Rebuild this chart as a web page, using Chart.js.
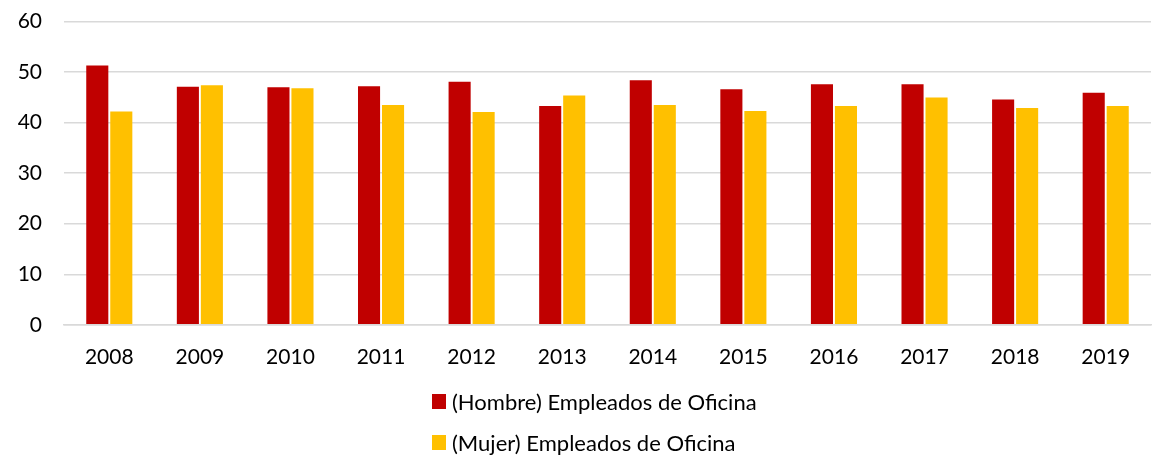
<!DOCTYPE html>
<html>
<head>
<meta charset="utf-8">
<script src="https://cdn.jsdelivr.net/npm/chart.js@4/dist/chart.umd.min.js"></script>
<style>
    body { margin: 0; background: #fff; font-family: Lato, "Noto Sans", sans-serif; overflow: hidden; }
    #wrap { position: relative; width: 1160px; height: 456px; overflow: hidden; }
    #chartBox { position: absolute; left: 0; top: -13px; width: 1160px; height: 403px; }
    #legend { position: absolute; left: 432px; top: 387px; color: #000; font-size: 22px; }
    .item { display: flex; align-items: center; height: 28px; margin-bottom: 13px; }
    .box { width: 14px; height: 15px; margin-right: 6px; }
</style>
</head>
<body>
<div id="wrap">
    <div id="chartBox"><canvas id="chart"></canvas></div>
    <div id="legend"></div>
</div>
<script>
const years = ['2008', '2009', '2010', '2011', '2012', '2013', '2014', '2015', '2016', '2017', '2018', '2019'];
const hombre = [51.3, 47.1, 47.0, 47.2, 48.1, 43.3, 48.4, 46.6, 47.6, 47.6, 44.6, 45.9];
const mujer = [42.2, 47.4, 46.8, 43.5, 42.1, 45.4, 43.5, 42.3, 43.3, 45.0, 42.9, 43.3];
const yTicks = [0, 10, 20, 30, 40, 50, 60];

const seriesNames = ['(Hombre) Empleados de Oficina', '(Mujer) Empleados de Oficina'];
const seriesColors = ['#c00000', '#ffc000'];

const ctx = document.getElementById('chart').getContext('2d');

const chart = new Chart(ctx, {
    type: 'bar',
    data: {
        labels: years,
        datasets: [
            {
                label: seriesNames[0],
                data: hombre,
                backgroundColor: seriesColors[0],
                categoryPercentage: 0.53,
                barPercentage: 0.92
            },
            {
                label: seriesNames[1],
                data: mujer,
                backgroundColor: seriesColors[1],
                categoryPercentage: 0.53,
                barPercentage: 0.92
            }
        ]
    },
    options: {
        responsive: true,
        maintainAspectRatio: false,
        animation: false,
        layout: {
            padding: { top: 0, right: 9, left: 0, bottom: 0 }
        },
        plugins: {
            legend: { display: false },
            tooltip: { enabled: false }
        },
        scales: {
            x: {
                grid: { display: false, drawTicks: false },
                border: { display: true, color: '#d9d9d9', width: 1.5 },
                ticks: {
                    color: '#000',
                    padding: 20,
                    font: { family: 'Lato', size: 21 }
                }
            },
            y: {
                min: 0,
                max: 60,
                afterBuildTicks: axis => {
                    axis.ticks = yTicks.map(v => ({ value: v }));
                },
                afterFit: axis => {
                    axis.width = 64;
                },
                grid: { color: '#d9d9d9', lineWidth: 1.5, drawTicks: false },
                border: { display: false },
                ticks: {
                    color: '#000',
                    padding: 22,
                    font: { family: 'Lato', size: 21 }
                }
            }
        }
    }
});

// Build the legend as two stacked rows
const legendDiv = document.getElementById('legend');
chart.data.datasets.forEach(ds => {
    const row = document.createElement('div');
    row.className = 'item';
    const box = document.createElement('span');
    box.className = 'box';
    box.style.background = ds.backgroundColor;
    const text = document.createElement('span');
    text.textContent = ds.label;
    row.appendChild(box);
    row.appendChild(text);
    legendDiv.appendChild(row);
});
</script>
</body>
</html>
